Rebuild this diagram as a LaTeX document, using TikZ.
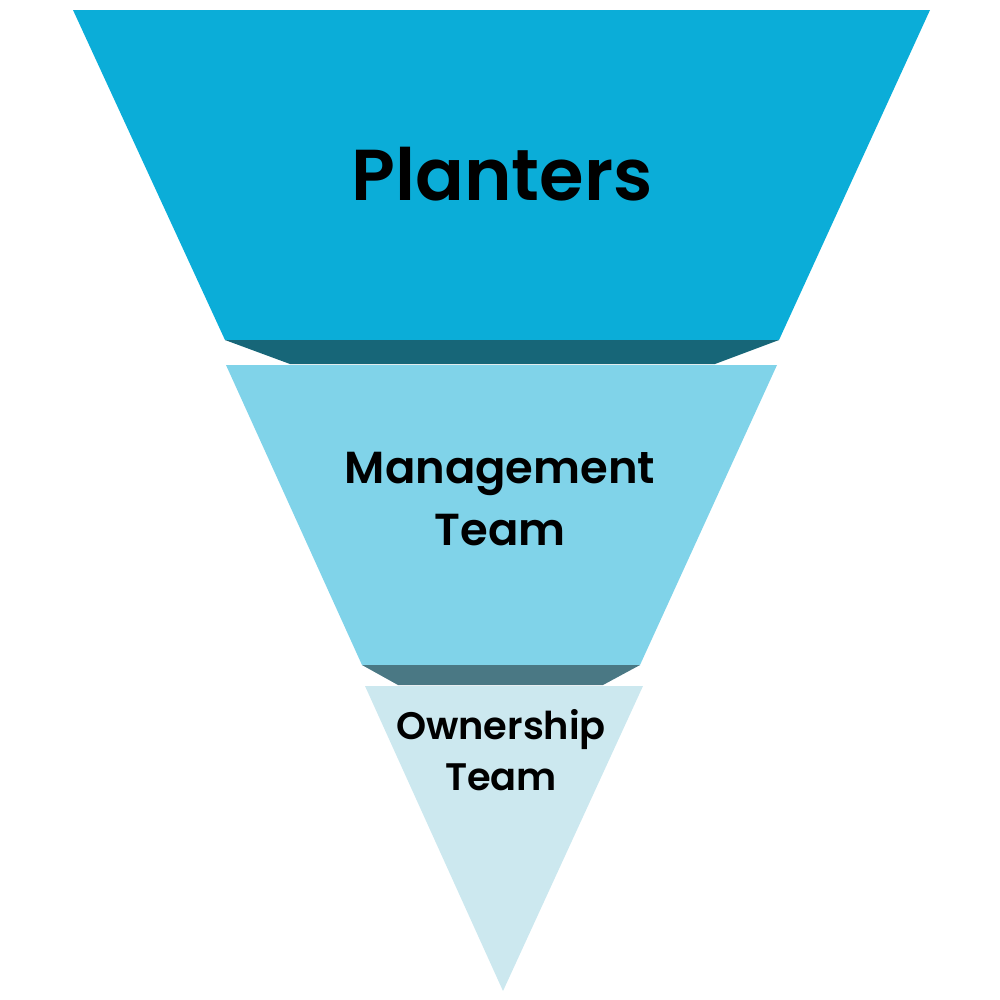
\documentclass[tikz,border=0pt]{standalone}
\usepackage{fontspec}
\setmainfont{Poppins}[BoldFont={* SemiBold}]
\definecolor{topc}{HTML}{0BADD8}
\definecolor{band1}{HTML}{176678}
\definecolor{midc}{HTML}{80D3E9}
\definecolor{band2}{HTML}{4A7884}
\definecolor{botc}{HTML}{CCE8EF}
\begin{document}
\begin{tikzpicture}[x=0.01cm,y=-0.01cm,
  lbl/.style={text=black,font=\bfseries,align=center,inner sep=0pt}]
\useasboundingbox (0,0) rectangle (1000,1000);
\fill[topc] (73,10) -- (930,10) -- (779,340) -- (225,340) -- cycle;
\fill[band1] (225,340) -- (779,340) -- (715,364) -- (290,364) -- cycle;
\fill[midc] (226,365) -- (777,365) -- (640,665) -- (362,665) -- cycle;
\fill[band2] (362,665) -- (640,665) -- (603,685) -- (398,685) -- cycle;
\fill[botc] (365,686) -- (643,686) -- (503,991) -- cycle;
\node[lbl,font=\fontsize{20.5}{25}\bfseries\selectfont] (planters) at (502,174) {Planters};
\node[lbl,font=\fontsize{12.75}{17.6}\selectfont\bfseries] (mgmt) at (500,499) {Management\\Team};
\node[lbl,font=\fontsize{10.9}{14.5}\selectfont\bfseries] (own) at (501,750) {Ownership\\Team};
\end{tikzpicture}
\end{document}
